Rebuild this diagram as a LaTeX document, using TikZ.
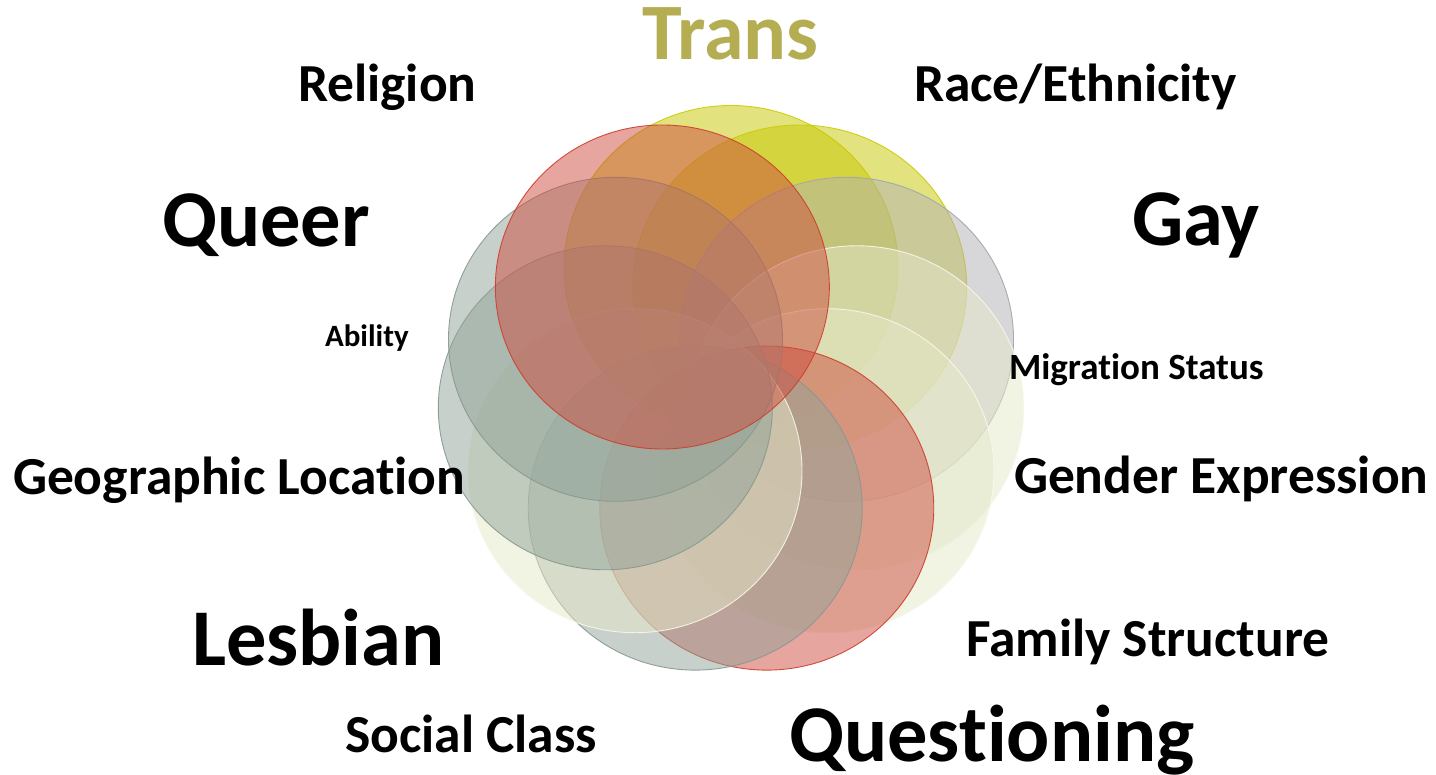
\documentclass[tikz,border=0pt]{standalone}
\usepackage{fontspec}
\setmainfont{Carlito}[Ligatures=NoCommon]
\definecolor{redF}{RGB}{206,76,62}
\definecolor{redL}{RGB}{205,62,45}
\definecolor{yelF}{RGB}{199,199,0}
\definecolor{yelL}{RGB}{204,204,0}
\definecolor{gryF}{RGB}{177,177,181}
\definecolor{gryL}{RGB}{165,165,170}
\definecolor{grnF}{RGB}{145,163,153}
\definecolor{grnL}{RGB}{135,152,144}
\definecolor{crmF}{RGB}{229,232,200}
\definecolor{crmL}{RGB}{248,248,236}
\definecolor{transC}{RGB}{181,173,82}
\begin{document}
\begin{tikzpicture}[x=1pt,y=-1pt,
  redcirc/.style={fill=redF,fill opacity=0.5,draw=redL,draw opacity=0.9,line width=0.9pt},
  yelcirc/.style={fill=yelF,fill opacity=0.5,draw=yelL,draw opacity=0.9,line width=0.9pt},
  grycirc/.style={fill=gryF,fill opacity=0.5,draw=gryL,draw opacity=0.9,line width=0.9pt},
  grncirc/.style={fill=grnF,fill opacity=0.5,draw=grnL,draw opacity=0.9,line width=0.9pt},
  crmcirc/.style={fill=crmF,fill opacity=0.5,draw=crmL,draw opacity=0.9,line width=0.9pt},
  lbl/.style={anchor=base west,inner sep=0pt,outer sep=0pt,font=\bfseries},
  big/.style={lbl,font=\fontsize{80.5}{90}\selectfont\bfseries},
  mid/.style={lbl,font=\fontsize{53.5}{60}\selectfont\bfseries}]
\useasboundingbox (0,0) rectangle (1436,775);
\fill[white] (0,0) rectangle (1436,775);
\foreach \k/\c in {0/yelcirc,1/yelcirc,2/grycirc,3/crmcirc,4/crmcirc,5/redcirc,6/grncirc,7/crmcirc,8/grncirc,9/grncirc,10/redcirc}{
  \pgfmathsetmacro\ang{-90+\k*360/11}
  \draw[\c] ({731+127*cos(\ang)},{390.3+122.8*sin(\ang)}) ellipse [x radius=167pt, y radius=162pt];
}
\node[lbl,font=\fontsize{80}{90}\selectfont\bfseries,text=transC] (trans) at (642,60) {Trans};
\node[mid] (religion) at (298,101.7) {Religion};
\node[mid] (race) at (914,101.7) {Race/Ethnicity};
\node[big] (queer) at (162,246.7) {Queer};
\node[big] (gay) at (1132,246) {Gay};
\node[lbl,font=\fontsize{31}{36}\selectfont\bfseries] (ability) at (325,346.7) {Ability};
\node[lbl,font=\fontsize{37}{42}\selectfont\bfseries] (migration) at (1009,379.3) {Migration Status};
\node[mid] (geo) at (13,495) {Geographic Location};
\node[mid] (gender) at (1014,494) {Gender Expression};
\node[big] (lesbian) at (192,665.7) {Lesbian};
\node[mid] (family) at (966,656.7) {Family Structure};
\node[mid] (social) at (345,752.7) {Social Class};
\node[big] (questioning) at (789,761.7) {Questioning};
\end{tikzpicture}
\end{document}
